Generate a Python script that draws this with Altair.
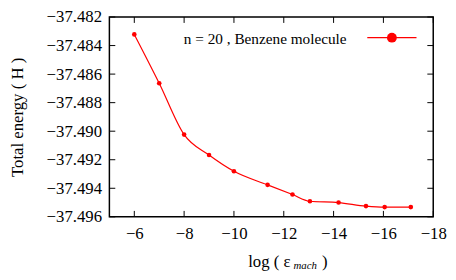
import altair as alt
import pandas as pd

# data
log_eps = [-6.0, -7.0, -8.0, -9.0, -10.0, -11.35, -12.35, -13.05, -14.2, -15.3, -16.05, -17.1]
energy = [-37.48322, -37.48664, -37.49024, -37.49167, -37.49281, -37.49376,
          -37.49444, -37.49491, -37.49500, -37.49525, -37.49532, -37.49532]
x_ticks = [-6, -8, -10, -12, -14, -16, -18]
y_ticks = [-37.482, -37.484, -37.486, -37.488, -37.490, -37.492, -37.494, -37.496]
legend_label = "n = 20 , Benzene molecule"

W, H = 329, 203
RED = "#ff0000"
FONT = "Liberation Serif"

df = pd.DataFrame({"x": log_eps, "e": energy})
df_xt = pd.DataFrame({"x": x_ticks})
df_yt = pd.DataFrame({"e": y_ticks})

xscale = alt.Scale(domain=[-5, -18], nice=False, zero=False)
yscale = alt.Scale(domain=[-37.496, -37.482], nice=False, zero=False)

base = alt.Chart(df)

line = base.mark_line(color=RED, strokeWidth=1.2, interpolate="monotone").encode(
    x=alt.X("x:Q", scale=xscale, title=None,
            axis=alt.Axis(values=x_ticks, format="d", tickSize=0, labelPadding=9,
                          labelFontSize=17, labelFont=FONT, grid=False, domain=False,
                          labelOverlap=False, labelFlush=False)),
    y=alt.Y("e:Q", scale=yscale, title="Total energy ( H )",
            axis=alt.Axis(values=y_ticks, format=".3f", tickSize=0, labelPadding=8,
                          labelFontSize=17, labelFont=FONT, grid=False, domain=False,
                          labelOverlap=False, labelFlush=False,
                          titleFontSize=17, titleFont=FONT, titleFontWeight="normal",
                          titleX=-93, titleY=H / 2, titleBaseline="middle",
                          titleAlign="center")),
)
pts = base.mark_point(filled=True, color=RED, size=22, opacity=1).encode(
    x=alt.X("x:Q", scale=xscale, axis=None), y=alt.Y("e:Q", scale=yscale, axis=None)
)

xt = alt.Chart(df_xt)
xt_bot = xt.mark_rule(color="black", strokeWidth=1).encode(
    x=alt.X("x:Q", scale=xscale, axis=None), y=alt.value(H), y2=alt.value(H - 6))
xt_top = xt.mark_rule(color="black", strokeWidth=1).encode(
    x=alt.X("x:Q", scale=xscale, axis=None), y=alt.value(0), y2=alt.value(6))

yt = alt.Chart(df_yt)
yt_left = yt.mark_rule(color="black", strokeWidth=1).encode(
    y=alt.Y("e:Q", scale=yscale, axis=None), x=alt.value(0), x2=alt.value(6))
yt_right = yt.mark_rule(color="black", strokeWidth=1).encode(
    y=alt.Y("e:Q", scale=yscale, axis=None), x=alt.value(W - 6), x2=alt.value(W))

leg_df = pd.DataFrame({"t": [legend_label]})
leg_text = alt.Chart(leg_df).mark_text(align="right", baseline="middle", fontSize=15.5,
                                       font=FONT, color="black").encode(
    text="t:N", x=alt.value(241), y=alt.value(22))
leg_line = alt.Chart(leg_df).mark_rule(color=RED, strokeWidth=1.2).encode(
    x=alt.value(262), x2=alt.value(312), y=alt.value(21))
leg_pt = alt.Chart(leg_df).mark_point(filled=True, color=RED, size=100, opacity=1).encode(
    x=alt.value(287), y=alt.value(21))

xt_df = pd.DataFrame({"a": ["log ( \u03b5"], "b": ["mach"], "c": [")"]})
xt1 = alt.Chart(xt_df).mark_text(align="left", baseline="alphabetic", fontSize=17,
                                 font=FONT, color="black").encode(
    text="a:N", x=alt.value(141), y=alt.value(254))
xt2 = alt.Chart(xt_df).mark_text(align="left", baseline="alphabetic", fontSize=11,
                                 font=FONT, fontStyle="italic", color="black").encode(
    text="b:N", x=alt.value(187), y=alt.value(256))
xt3 = alt.Chart(xt_df).mark_text(align="left", baseline="alphabetic", fontSize=17,
                                 font=FONT, color="black").encode(
    text="c:N", x=alt.value(216), y=alt.value(254))

chart = alt.layer(line, pts, xt_bot, xt_top, yt_left, yt_right,
                  leg_text, leg_line, leg_pt, xt1, xt2, xt3).resolve_axis(
    x="independent", y="independent"
).properties(
    width=W, height=H, autosize="none",
    padding={"left": 103, "top": 7, "right": 15, "bottom": 60},
).configure(font=FONT).configure_view(
    stroke="black", strokeWidth=1.5
).configure_axis(
    labelFont=FONT, titleFont=FONT, labelColor="black", titleColor="black"
)

chart.save("out.html", embed_options={"renderer": "svg", "actions": False})
